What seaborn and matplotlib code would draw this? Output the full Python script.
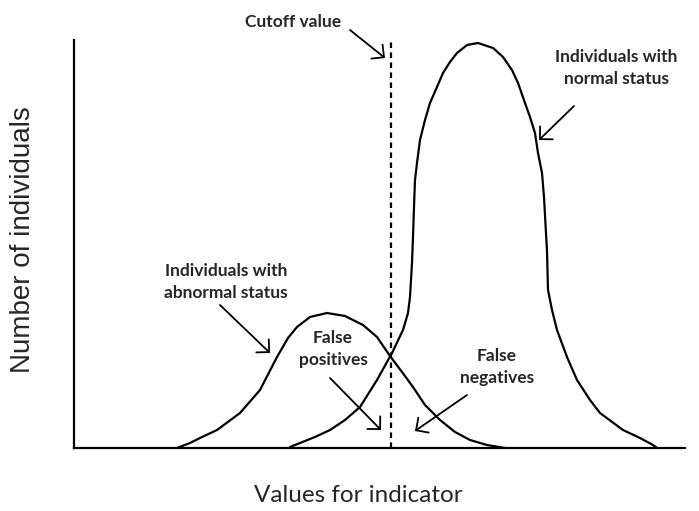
import matplotlib
matplotlib.use("Agg")
import matplotlib.pyplot as plt
import seaborn as sns

# values (x = indicator value, y = number of individuals)
normal_x = [216, 226, 241, 256, 271, 286, 303, 318, 329, 334, 336, 338, 339, 340,
            341, 343, 346, 351, 356, 363, 369, 376, 383, 393, 404, 419, 429, 438,
            444, 451, 456, 461, 464, 468, 470, 473, 473, 474, 478, 483, 493, 503,
            516, 526, 549, 566, 579, 583]
normal_y = [1, 5, 11, 18, 28, 41, 68, 95, 118, 135, 151, 185, 211, 241,
            268, 285, 308, 328, 345, 361, 375, 386, 395, 403, 405, 400, 391, 378,
            365, 345, 331, 315, 295, 275, 251, 208, 185, 158, 138, 118, 91, 68,
            48, 35, 18, 10, 3, 0]

abnormal_x = [103, 116, 126, 143, 166, 186, 203, 214, 223, 236, 253, 271, 289,
              303, 316, 328, 339, 351, 366, 381, 396, 413, 431]
abnormal_y = [0, 5, 10, 18, 35, 58, 91, 110, 121, 131, 135, 132, 123,
              111, 92, 76, 61, 43, 28, 16, 8, 3, 0]

cutoff = 317

labels = ["Cutoff value", "Individuals with\nnormal status",
          "Individuals with\nabnormal status", "False\npositives", "False\nnegatives"]
label_pos = [(219, 426), (542, 380), (152, 166), (259, 99), (423, 81)]
arrow_tail = [(276, 418), (500, 342), (146, 143), (256, 70), (393, 53)]
arrow_head = [(311, 390), (465, 308), (196, 95), (307, 18), (341, 17)]

sns.set_style("white")
plt.rcParams["font.family"] = ["Lato", "DejaVu Sans"]

fig = plt.figure(figsize=(6.99, 5.11), dpi=100)
ax = fig.add_axes([74 / 699, 63 / 511, 611 / 699, 408 / 511])

sns.lineplot(x=normal_x, y=normal_y, ax=ax, color="black", lw=1.6, sort=False)
sns.lineplot(x=abnormal_x, y=abnormal_y, ax=ax, color="black", lw=1.6, sort=False)
ax.axvline(cutoff, color="black", lw=1.6, dashes=(2.5, 2), ymax=1.005, clip_on=False)

ax.set_xlim(0, 611)
ax.set_ylim(0, 408)
ax.set_xticks([])
ax.set_yticks([])
sns.despine(ax=ax)
for side in ["left", "bottom"]:
    ax.spines[side].set_color("black")
    ax.spines[side].set_linewidth(1.6)

for text, pos in zip(labels, label_pos):
    ax.text(pos[0], pos[1], text, ha="center", va="center", fontsize=12.5,
            fontweight="bold", linespacing=1.4, clip_on=False)

for tail, head in zip(arrow_tail, arrow_head):
    ax.annotate("", xy=head, xytext=tail, annotation_clip=False,
                arrowprops=dict(arrowstyle="->,head_length=0.65,head_width=0.65",
                                color="black", lw=1.3, shrinkA=0, shrinkB=0))

ax.set_xlabel("Values for indicator", fontsize=17.5)
ax.set_ylabel("Number of individuals", fontsize=20, family="Liberation Sans")
ax.xaxis.set_label_coords(0.466, -0.09)
ax.yaxis.set_label_coords(-0.062, 0.51)

fig.savefig("out.png", dpi=100)
